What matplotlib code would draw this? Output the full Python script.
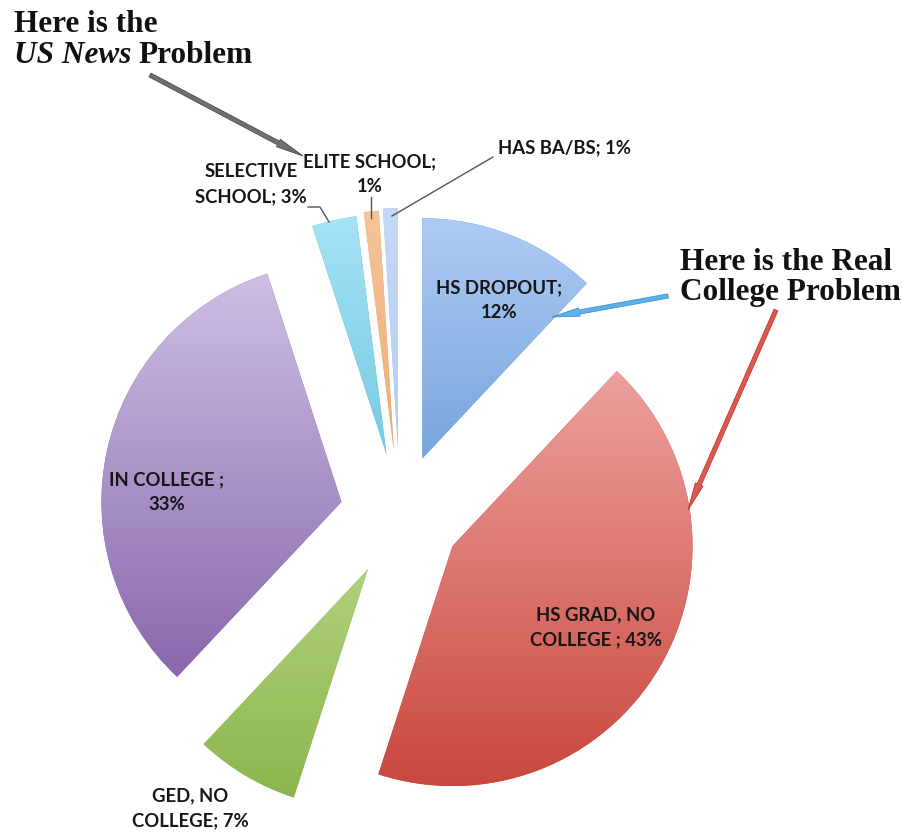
import matplotlib

matplotlib.use("Agg")

import matplotlib.pyplot as plt
import numpy as np
from matplotlib.colors import to_rgb
from matplotlib.patches import FancyArrowPatch

W, H = 904, 833

categories = ["HS DROPOUT", "HS GRAD, NO COLLEGE", "GED, NO COLLEGE", "IN COLLEGE",
              "SELECTIVE SCHOOL", "ELITE SCHOOL", "HAS BA/BS"]
shares = [12, 43, 7, 33, 3, 1, 1]
slice_labels = ["HS DROPOUT;\n12%", "HS GRAD, NO\nCOLLEGE ; 43%", "GED, NO\nCOLLEGE; 7%",
                "IN COLLEGE ;\n33%", "SELECTIVE\nSCHOOL; 3%", "ELITE SCHOOL;\n1%", "HAS BA/BS; 1%"]

# gradient fills, top -> bottom
top_colors = ["#aecbf3", "#f2aeab", "#d8eeac", "#cfc1e6", "#a6e2f6", "#f4c49a", "#c4d8f7"]
bottom_colors = ["#3f7fc6", "#c9483e", "#8ab44c", "#7e5aa3", "#47b2d0", "#ea9550", "#a9c4f0"]
explode = [61, 61, 63, 60, 62, 65, 67]

# label centres in pixel coords (origin top-left)
label_pos = [(499, 300), (596, 627), (190, 808), (167, 492), (251, 184), (370, 174), (565, 148)]


def px(x, y):
    return x, H - y


fig = plt.figure(figsize=(W / 100, H / 100), dpi=100)
ax = fig.add_axes([0, 0, 1, 1])

wedges, _ = ax.pie(shares, explode=explode, startangle=90, counterclock=False,
                   radius=240, center=px(400, 515), wedgeprops=dict(linewidth=0))

for w, c_top, c_bot in zip(wedges, top_colors, bottom_colors):
    t = np.linspace(0, 1, 256)[:, None, None]
    grad = (1 - t) * np.array(to_rgb(c_top)) + t * np.array(to_rgb(c_bot))
    cx, cy = w.center
    r = w.r
    w.set_facecolor(c_bot)
    im = ax.imshow(grad, extent=(cx - r, cx + r, cy - r, cy + r), origin="upper",
                   interpolation="bilinear", aspect="auto", zorder=2)
    im.set_clip_path(w)

label_font = dict(family=["Lato", "DejaVu Sans"], fontweight="bold", fontsize=13.3,
                  color="#161616", linespacing=1.6)
for text, (x, y) in zip(slice_labels, label_pos):
    ax.text(*px(x, y), text, ha="center", va="center", zorder=5, **label_font)

# leader lines for the thin slices
lead = dict(color="#555555", lw=1.0, zorder=4)
ax.plot(*zip(px(308, 207), px(320, 207), px(329, 222)), **lead)
ax.plot(*zip(px(371, 197), px(371, 218)), **lead)
ax.plot(*zip(px(493, 157), px(392, 216)), **lead)

# callout arrows
arrows = [
    (px(150, 75), px(303, 156), "#707070", "#4a4a4a"),
    (px(668, 296), px(552, 317), "#5db2ec", "#3a8fd0"),
    (px(776, 310), px(688, 510), "#e0574c", "#b83a30"),
]
for start, end, fc, ec in arrows:
    ax.add_patch(FancyArrowPatch(start, end,
                                 arrowstyle="simple,head_length=20,head_width=6,tail_width=3",
                                 mutation_scale=1, facecolor=fc, edgecolor=ec, lw=0.6,
                                 shrinkA=0, shrinkB=0, zorder=6))

title_font = dict(family="Liberation Serif", fontweight="bold", fontsize=22.5, color="#111111")
ax.text(*px(14, 32), "Here is the", ha="left", va="baseline", **title_font)
us = ax.text(*px(14, 63), "US News", ha="left", va="baseline", fontstyle="italic", **title_font)
ax.annotate("Problem", xy=(1, 0), xycoords=us, xytext=(5, 0), textcoords="offset points",
            ha="left", va="bottom", **title_font)
ax.text(*px(680, 270), "Here is the Real", ha="left", va="baseline", **title_font)
ax.text(*px(680, 300), "College Problem", ha="left", va="baseline", **title_font)

ax.set_xlim(0, W)
ax.set_ylim(0, H)
ax.set_aspect("equal")
ax.axis("off")

fig.savefig("out.png", dpi=100)
plt.close(fig)
